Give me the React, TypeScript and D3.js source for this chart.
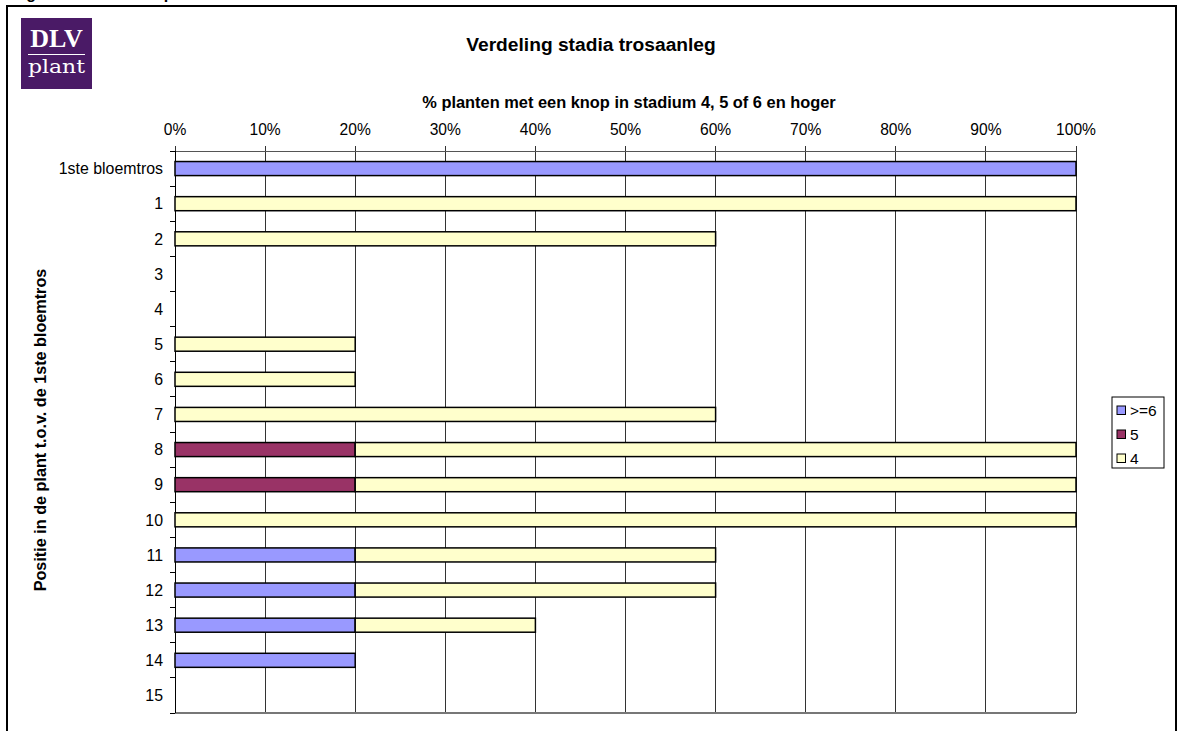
import React from "react";
import * as d3 from "d3";

// Categories (positions relative to the first flower truss)
const categories = [
  "1ste bloemtros", "1", "2", "3", "4", "5", "6", "7", "8", "9",
  "10", "11", "12", "13", "14", "15",
];

// Percentage of plants per stage, per position
const stage6plus = [100, 0, 0, 0, 0, 0, 0, 0, 0, 0, 0, 20, 20, 20, 20, 0];
const stage5 = [0, 0, 0, 0, 0, 0, 0, 0, 20, 20, 0, 0, 0, 0, 0, 0];
const stage4 = [0, 100, 60, 0, 0, 20, 20, 60, 80, 80, 100, 40, 40, 20, 0, 0];

const seriesNames = [">=6", "5", "4"];
const seriesColors = ["#9999FF", "#993366", "#FFFFCC"];

const xTicks = [0, 10, 20, 30, 40, 50, 60, 70, 80, 90, 100];

const W = 1177;
const H = 731;
const FONT = "Liberation Sans, Arial, sans-serif";

export default function App() {
  const x = d3.scaleLinear().domain([0, 100]).range([175, 1076]);
  const y = d3
    .scaleBand<string>()
    .domain(categories)
    .range([151, 713])
    .paddingInner(0.6)
    .paddingOuter(0.3);
  const step = y.step();
  const top = 151;
  const bottom = 713;

  const rows = categories.map((c, i) => ({
    cat: c,
    values: [stage6plus[i], stage5[i], stage4[i]],
  }));

  const stacked = d3
    .stack<{ cat: string; values: number[] }>()
    .keys(["0", "1", "2"])
    .value((d, k) => d.values[+k])(rows);

  const boundaries = d3.range(categories.length + 1).map((i) => top + i * step);

  return (
    <svg
      width={W}
      height={H}
      style={{ position: "absolute", left: 0, top: 0, background: "#fff" }}
      fontFamily={FONT}
    >
      {/* caption line above the frame, mostly cut off */}
      <text x={12} y={-1} fontSize={16} fontWeight="bold" fill="#000">
        Figuur 1: Totale knopstadia
      </text>

      {/* outer frame */}
      <rect x={7} y={6} width={1169} height={740} fill="none" stroke="#000" strokeWidth={2} />

      {/* logo */}
      <g>
        <rect x={21} y={18} width={71} height={71} fill="#4A1A66" />
        <text x={56.5} y={47} textAnchor="middle" fill="#fff" fontFamily="Liberation Serif, serif" fontWeight="bold" fontSize={26}>
          DLV
        </text>
        <line x1={28} x2={85} y1={54.5} y2={54.5} stroke="#fff" strokeWidth={1} />
        <text x={28} y={73} fill="#fff" fontFamily="DejaVu Serif, serif" fontSize={18} textLength={57} lengthAdjust="spacingAndGlyphs">
          plant
        </text>
      </g>

      {/* titles */}
      <text x={591} y={51} textAnchor="middle" fontSize={19.2} fontWeight="bold">
        Verdeling stadia trosaanleg
      </text>
      <text x={629} y={108} textAnchor="middle" fontSize={16.4} fontWeight="bold">
        % planten met een knop in stadium 4, 5 of 6 en hoger
      </text>
      <text
        transform={`translate(46,430) rotate(-90)`}
        textAnchor="middle"
        fontSize={16.2}
        fontWeight="bold"
      >
        Positie in de plant t.o.v. de 1ste bloemtros
      </text>

      {/* gridlines */}
      {xTicks.slice(1).map((t) => (
        <line key={t} x1={x(t)} x2={x(t)} y1={top} y2={bottom} stroke="#333" strokeWidth={1} shapeRendering="crispEdges" />
      ))}
      <line x1={x(0)} x2={x(100)} y1={top} y2={top} stroke="#555" strokeWidth={1} shapeRendering="crispEdges" />
      <line x1={x(0)} x2={x(100)} y1={bottom} y2={bottom} stroke="#777" strokeWidth={1.5} shapeRendering="crispEdges" />

      {/* x axis (top) */}
      {xTicks.map((t) => (
        <g key={t}>
          <line x1={x(t)} x2={x(t)} y1={top - 5} y2={top} stroke="#333" strokeWidth={1} shapeRendering="crispEdges" />
          <text x={x(t)} y={135} textAnchor="middle" fontSize={15.6}>
            {t}%
          </text>
        </g>
      ))}

      {/* y axis */}
      <line x1={x(0)} x2={x(0)} y1={top} y2={bottom} stroke="#000" strokeWidth={1} shapeRendering="crispEdges" />
      {boundaries.map((b, i) => (
        <line key={i} x1={x(0) - 5} x2={x(0)} y1={b} y2={b} stroke="#000" strokeWidth={1} shapeRendering="crispEdges" />
      ))}
      {categories.map((c) => (
        <text key={c} x={163} y={(y(c) as number) + y.bandwidth() / 2} dy="0.36em" textAnchor="end" fontSize={15.9}>
          {c}
        </text>
      ))}

      {/* stacked bars */}
      {stacked.map((layer, si) => (
        <g key={si} fill={seriesColors[si]} stroke="#000" strokeWidth={1.5}>
          {layer.map((seg, i) =>
            seg[1] - seg[0] > 0 ? (
              <rect
                key={i}
                x={x(seg[0])}
                y={y(categories[i]) as number}
                width={x(seg[1]) - x(seg[0])}
                height={y.bandwidth()}
              />
            ) : null
          )}
        </g>
      ))}

      {/* legend */}
      <g>
        <rect x={1112} y={397} width={52} height={71} fill="#fff" stroke="#000" strokeWidth={1} />
        {seriesNames.map((n, i) => (
          <g key={n} transform={`translate(1117,${406 + i * 24})`}>
            <rect x={0} y={0} width={8.5} height={8.5} fill={seriesColors[i]} stroke="#000" strokeWidth={1} />
            <text x={13} y={4.5} dy="0.36em" fontSize={15.5}>
              {n}
            </text>
          </g>
        ))}
      </g>
    </svg>
  );
}
